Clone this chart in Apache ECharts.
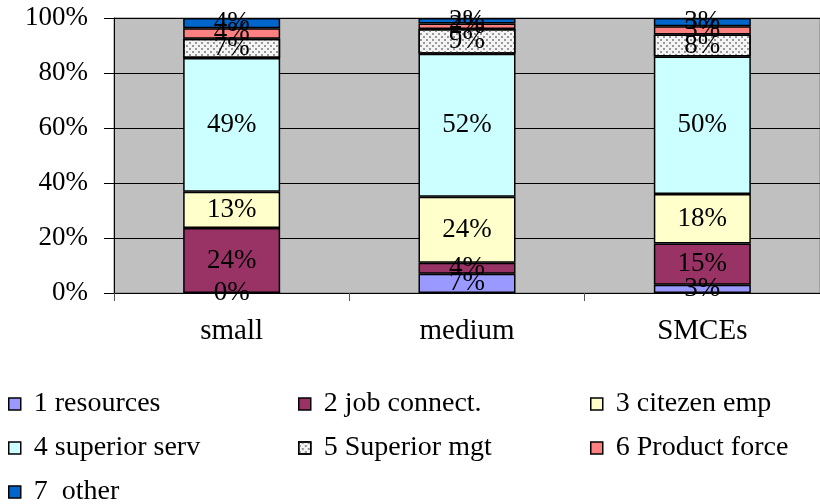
<!DOCTYPE html>
<html>
<head>
<meta charset="utf-8">
<script src="https://cdn.jsdelivr.net/npm/echarts@6/dist/echarts.min.js"></script>
<style>
  html, body { margin: 0; padding: 0; background: #fff; }
  #main { width: 820px; height: 504px; }
</style>
</head>
<body>
<div id="main"></div>
<script>
// categories and shares (percent of each group)
const categories = ['small', 'medium', 'SMCEs']
const seriesNames = ['1 resources', '2 job connect.', '3 citezen emp', '4 superior serv', '5 Superior mgt', '6 Product force', '7  other']
const resources = [0, 7, 3]
const jobConnect = [23.6, 4, 15]
const citezenEmp = [13.2, 24, 18]
const superiorServ = [48.7, 52, 50]
const superiorMgt = [7.0, 9, 8]
const productForce = [3.8, 2, 3]
const other = [3.7, 2, 3]
const yTicks = [0, 20, 40, 60, 80, 100]

const values = [resources, jobConnect, citezenEmp, superiorServ, superiorMgt, productForce, other]
const colors = ['#9999FF', '#993366', '#FFFFCC', '#CCFFFF', '#F4F4F4', '#FF8080', '#0066CC']
const font = '"Liberation Serif", "Times New Roman", serif'

const chart = echarts.init(document.getElementById('main'))

let series = []
for (let i in values) {
  let s = {
    name: seriesNames[i],
    type: 'bar',
    stack: 'total',
    barWidth: 97,
    data: values[i],
    itemStyle: {
      color: colors[i],
      borderColor: '#000',
      borderWidth: 1.5
    },
    label: {
      show: true,
      position: 'inside',
      color: '#000',
      fontFamily: font,
      fontSize: 27,
      formatter: function (p) {
        return Math.round(p.value) + '%'
      }
    }
  }
  if (i == 4) {
    // dotted fill for "Superior mgt"
    s.itemStyle.decal = {
      symbol: 'rect',
      color: '#999999',
      symbolSize: 1,
      dashArrayX: [[2, 4], [0, 3, 2, 1]],
      dashArrayY: [2, 1]
    }
  }
  series.push(s)
}

// legend in a 3-column grid, one legend per entry
const legendCols = [8, 298, 590]
const legendRows = [390, 434, 478]
let legends = []
for (let i = 0; i < seriesNames.length; i++) {
  legends.push({
    left: legendCols[i % 3],
    top: legendRows[Math.floor(i / 3)],
    padding: 0,
    icon: 'rect',
    itemWidth: 12,
    itemHeight: 12,
    itemStyle: { borderColor: '#000', borderWidth: 1.5 },
    textStyle: { fontFamily: font, fontSize: 28, color: '#000', padding: [0, 0, 0, 8] },
    data: [seriesNames[i]]
  })
}

const option = {
  animation: false,
  backgroundColor: '#fff',
  grid: {
    left: 114,
    top: 18,
    right: 0,
    bottom: 211,
    show: true,
    backgroundColor: '#C0C0C0',
    borderColor: '#808080',
    borderWidth: 1
  },
  legend: legends,
  xAxis: {
    type: 'category',
    data: categories,
    axisLine: { show: true, lineStyle: { color: '#000', width: 1 } },
    axisTick: { show: true, length: 8, lineStyle: { color: '#555' } },
    axisLabel: { fontFamily: font, fontSize: 29, color: '#000', margin: 24 }
  },
  yAxis: {
    type: 'value',
    min: yTicks[0],
    max: yTicks[yTicks.length - 1],
    interval: 20,
    axisLine: { show: true, lineStyle: { color: '#000', width: 1 } },
    axisTick: { show: true, length: 10, lineStyle: { color: '#000' } },
    splitLine: { show: true, lineStyle: { color: '#000', width: 1 } },
    axisLabel: {
      fontFamily: font,
      fontSize: 27,
      color: '#000',
      margin: 26,
      formatter: function (v) { return v + '%' }
    }
  },
  series: series
}

chart.setOption(option)
</script>
</body>
</html>
